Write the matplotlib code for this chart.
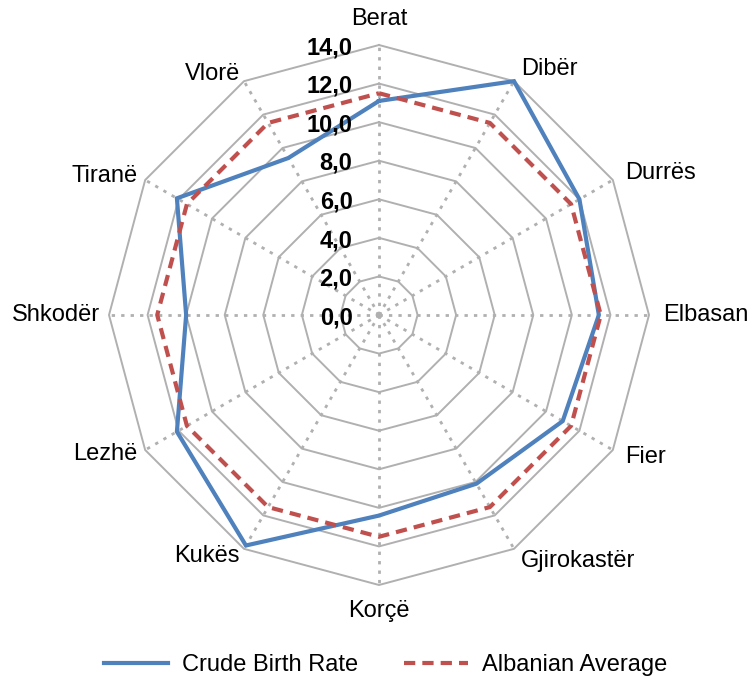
import numpy as np
import matplotlib.pyplot as plt

plt.rcParams['font.family'] = ['Liberation Sans', 'DejaVu Sans']

# districts, clockwise from the top
districts = ["Berat", "Dibër", "Durrës", "Elbasan", "Fier", "Gjirokastër",
             "Korçë", "Kukës", "Lezhë", "Shkodër", "Tiranë", "Vlorë"]
birth_rate = [11.1, 14.0, 12.0, 11.4, 11.0, 10.1, 10.4, 13.8, 12.1, 10.0, 12.1, 9.4]
albanian_avg = [11.5] * 12
ring_values = [2, 4, 6, 8, 10, 12, 14]
ring_labels = ["0,0", "2,0", "4,0", "6,0", "8,0", "10,0", "12,0", "14,0"]

n = len(districts)
angles = np.linspace(0, 2 * np.pi, n, endpoint=False)
closed = np.append(angles, angles[0])

fig = plt.figure(figsize=(7.51, 6.86), dpi=100)
cx, cy, R = 379 / 751, 1 - 315 / 686, 270
ax = fig.add_axes([cx - R / 751, cy - R / 686, 2 * R / 751, 2 * R / 686], projection="polar")
ax.set_theta_zero_location("N")
ax.set_theta_direction(-1)
ax.set_ylim(0, 14)
ax.set_xticks([])
ax.set_yticks([])
ax.grid(False)
ax.spines["polar"].set_visible(False)
ax.patch.set_visible(False)

grid_col = "#B0B0B0"
# polygon rings
for v in ring_values:
    ax.plot(closed, [v] * (n + 1), color=grid_col, lw=1.4, clip_on=False, zorder=1)
# dotted spokes
for a in angles:
    ax.plot([a, a], [0, 14], color=grid_col, lw=2.0, linestyle=(0, (1.2, 2.2)),
            clip_on=False, zorder=1)

# data
ax.plot(closed, birth_rate + birth_rate[:1], color="#4F81BD", lw=3.0,
        solid_joinstyle="miter", clip_on=False, zorder=3, label="Crude Birth Rate")
ax.plot(closed, albanian_avg + albanian_avg[:1], color="#C0504D", lw=3.0,
        dashes=(2.7, 1.7), clip_on=False, zorder=4, label="Albanian Average")

# radial labels
for i, lab in enumerate(ring_labels):
    ax.annotate(lab, xy=(0, 2 * i), xytext=(-19, -2), textcoords="offset points",
                ha="right", va="center", fontsize=17, fontweight="bold",
                annotation_clip=False, zorder=5)

# category labels
for a, name in zip(angles, districts):
    s = np.sin(a)
    if abs(s) < 0.01:
        ax.text(a, 15.35, name, ha="center", va="center", fontsize=17)
    elif s > 0:
        ax.text(a, 14.75, name, ha="left", va="center", fontsize=17)
    else:
        ax.text(a, 14.45, name, ha="right", va="center", fontsize=17)

fig.legend(loc="center", bbox_to_anchor=(386 / 751, 1 - 665 / 686), ncol=2, frameon=False,
           fontsize=17, handlelength=2.7, handletextpad=0.6, columnspacing=1.95)

fig.savefig("out.png", dpi=100)
